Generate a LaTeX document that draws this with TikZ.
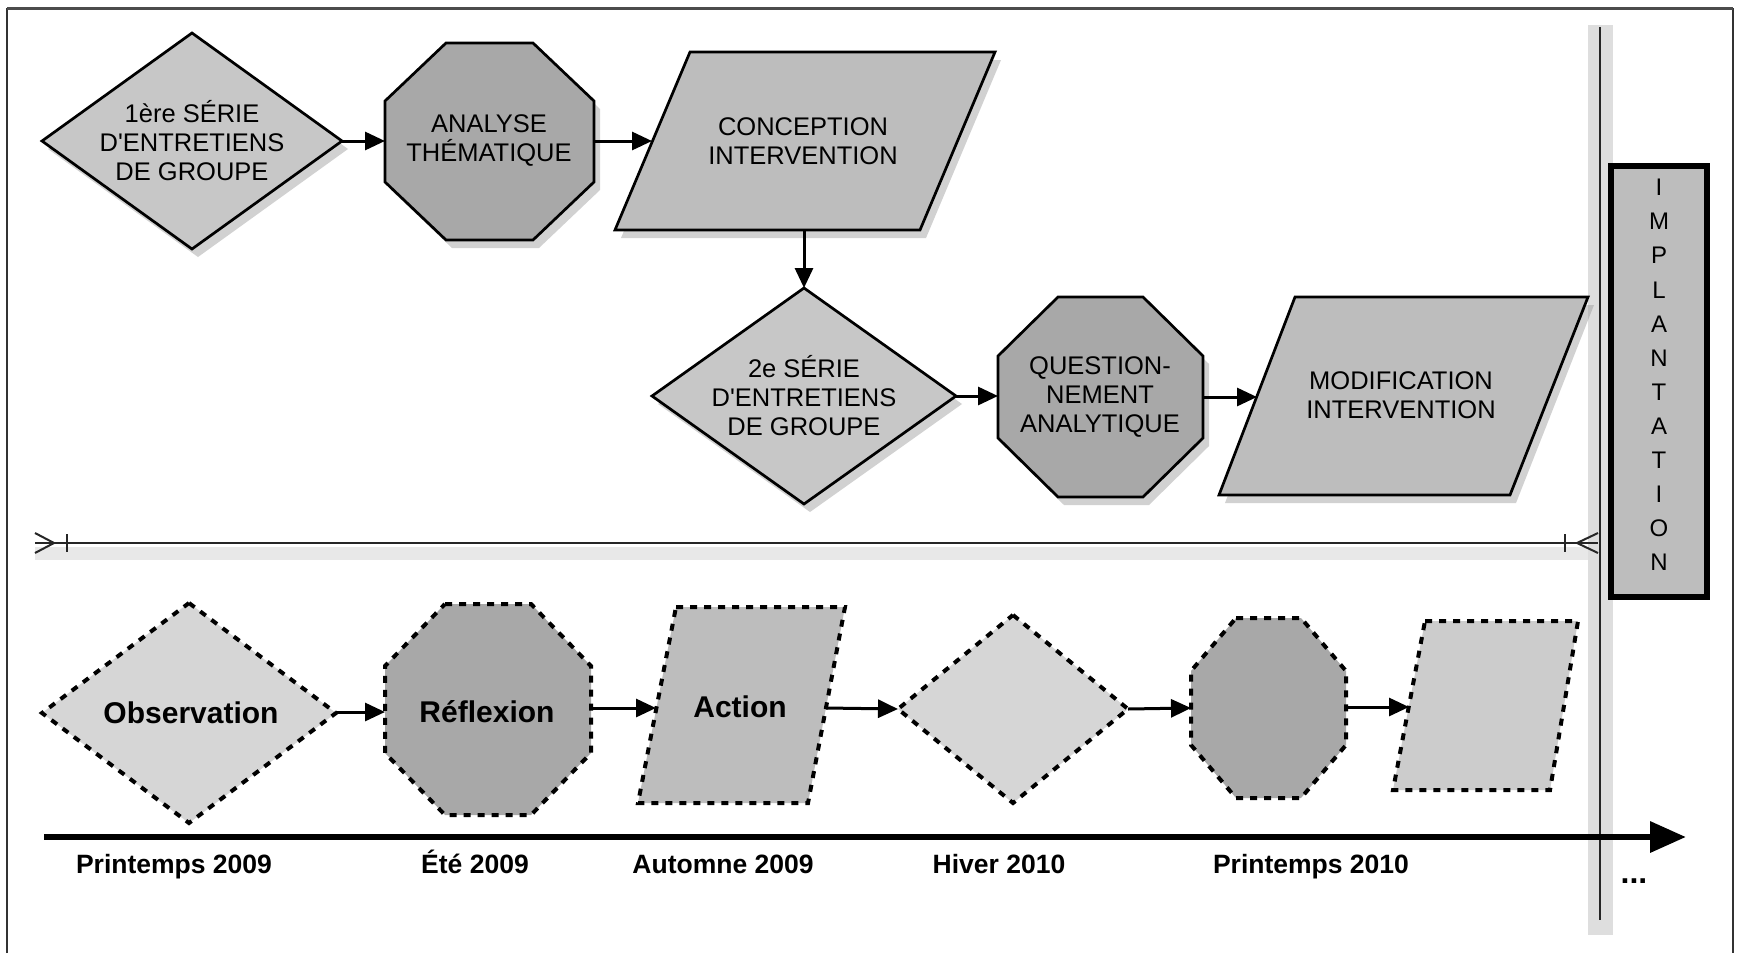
\documentclass[tikz,border=0pt]{standalone}
\usepackage{fontspec}
\setmainfont{Liberation Sans}
\usetikzlibrary{arrows.meta,shadows}
\definecolor{dfill}{gray}{0.78}
\definecolor{ofill}{gray}{0.66}
\definecolor{pfill}{gray}{0.74}
\definecolor{dlight}{gray}{0.84}
\definecolor{plight}{gray}{0.80}
\definecolor{bandgray}{gray}{0.87}
\begin{document}
\begin{tikzpicture}[x=1pt,y=-1pt,
  solidshape/.style={draw=black, line width=2.7pt, line join=miter,
    drop shadow={shadow xshift=6pt, shadow yshift=-8pt, fill=black!40, opacity=.45}},
  dashshape/.style={draw=black, line width=4pt, dash pattern=on 7pt off 7pt},
  txt/.style={align=center, font=\fontsize{25.5}{29}\selectfont, inner sep=0pt},
  btxt/.style={font=\bfseries\fontsize{30}{36}\selectfont, inner sep=0pt},
  datelbl/.style={font=\bfseries\fontsize{26.5}{30}\selectfont, anchor=base, inner sep=0pt},
  conn/.style={line width=3pt, -{Triangle[length=20pt,width=18pt]}},
  sepline/.style={line width=2pt, black!85},
]
\useasboundingbox (0,0) rectangle (1744,953);
\fill[white] (0,0) rectangle (1744,953);
% frame (open at the bottom)
\draw[line width=1.3pt, black!80] (7,953) -- (7,9) -- (1733,9) -- (1733,953);
\draw[line width=3pt, black!70] (7,8) -- (1733,8);

% gray bands
\fill[bandgray] (1588,25) rectangle (1613,935);
\fill[black!9] (35,547) rectangle (1588,560);

% ===== Row 1 =====
\filldraw[solidshape, fill=dfill] (192,33) -- (342,141) -- (192,249) -- (42,141) -- cycle;
\node[txt] (d1) at (192,141) {1ère SÉRIE\\D\textquotesingle{}ENTRETIENS\\DE GROUPE};
\filldraw[solidshape, fill=ofill] (446,43) -- (533,43) -- (594,101) -- (594,182) -- (533,240) -- (446,240) -- (385,182) -- (385,101) -- cycle;
\node[txt] (o1) at (489,141) {ANALYSE\\THÉMATIQUE};
\filldraw[solidshape, fill=pfill] (690,52) -- (995,52) -- (920,230) -- (615,230) -- cycle;
\node[txt] (p1) at (803,141) {CONCEPTION\\INTERVENTION};

% ===== Row 2 =====
\filldraw[solidshape, fill=dfill] (804,288) -- (956,396) -- (804,504) -- (652,396) -- cycle;
\node[txt] (d2) at (804,396) {2e SÉRIE\\D\textquotesingle{}ENTRETIENS\\DE GROUPE};
\filldraw[solidshape, fill=ofill] (1058,297) -- (1143,297) -- (1203,356) -- (1203,438) -- (1143,497) -- (1058,497) -- (998,438) -- (998,356) -- cycle;
\node[txt] (o2) at (1100,397) {QUESTION-\\NEMENT\\ANALYTIQUE};
\filldraw[solidshape, fill=pfill] (1295,297) -- (1588,297) -- (1510,495) -- (1219,495) -- cycle;
\node[txt] (p2) at (1401,395) {MODIFICATION\\INTERVENTION};

% connector anchors row 1-2
\coordinate (d1e) at (342,141);
\coordinate (o1w) at (385,141);
\coordinate (o1e) at (594,141);
\coordinate (p1w) at (652,141);
\coordinate (p1s) at (804,230);
\coordinate (d2n) at (804,288);
\coordinate (d2e) at (956,396);
\coordinate (o2w) at (998,396);
\coordinate (o2e) at (1203,397);
\coordinate (p2w) at (1257,397);
\draw[conn] (d1e) -- (o1w);
\draw[conn] (o1e) -- (p1w);
\draw[conn] (p1s) -- (d2n);
\draw[conn] (d2e) -- (o2w);
\draw[conn] (o2e) -- (p2w);

% ===== separator =====
\coordinate (sepL) at (35,543);
\coordinate (sepR) at (1598,543);
\coordinate (sepLf) at (54,543);
\coordinate (sepRf) at (1577,543);
\draw[sepline] (sepL) -- (sepR);
\draw[sepline] (35,533) -- (sepLf) -- (35,553);
\draw[sepline] (67,534) -- (67,552);
\draw[sepline] (1598,533) -- (sepRf) -- (1598,553);
\draw[sepline] (1565,534) -- (1565,552);

% vertical line
\coordinate (vtop) at (1600,27);
\coordinate (vbot) at (1600,920);
\draw[line width=2pt, black!85] (vtop) -- (vbot);

% IMPLANTATION box
\filldraw[draw=black, line width=6pt, fill=pfill] (1611,166) rectangle (1707,597);
\node[align=center, font=\fontsize{24}{34.1}\selectfont, inner sep=0pt, anchor=north] (impl) at (1659,179)
  {I\\M\\P\\L\\A\\N\\T\\A\\T\\I\\O\\N};

% ===== Row 3 =====
\filldraw[dashshape, fill=dlight] (189,603) -- (336,713) -- (189,823) -- (42,713) -- cycle;
\node[btxt] (obs) at (191,713) {Observation};
\filldraw[dashshape, fill=ofill] (445,604) -- (531,604) -- (591,666) -- (591,753) -- (531,815) -- (445,815) -- (385,753) -- (385,666) -- cycle;
\node[btxt] (refl) at (487,712) {Réflexion};
\filldraw[dashshape, fill=pfill] (676,607) -- (845,607) -- (808,803) -- (638,803) -- cycle;
\node[btxt] (act) at (740,707) {Action};
\filldraw[dashshape, fill=dlight] (1013,615) -- (1128,709) -- (1013,803) -- (898,709) -- cycle;
\coordinate (d4) at (1013,709);
\filldraw[dashshape, fill=ofill] (1236,618) -- (1301,618) -- (1346,671) -- (1346,745) -- (1301,798) -- (1236,798) -- (1191,745) -- (1191,671) -- cycle;
\coordinate (o3) at (1268,708);
\filldraw[dashshape, fill=plight] (1425,621) -- (1578,621) -- (1550,790) -- (1393,790) -- cycle;
\coordinate (p3) at (1486,705);

\coordinate (obse) at (336,712);
\coordinate (reflw) at (385,712);
\coordinate (refle) at (591,708);
\coordinate (actw) at (656,708);
\coordinate (acte) at (826,708);
\coordinate (d4w) at (898,709);
\coordinate (d4e) at (1128,709);
\coordinate (o3w) at (1191,708);
\coordinate (o3e) at (1346,707);
\coordinate (p3w) at (1409,707);
\draw[conn] (obse) -- (reflw);
\draw[conn] (refle) -- (actw);
\draw[conn] (acte) -- (d4w);
\draw[conn] (d4e) -- (o3w);
\draw[conn] (o3e) -- (p3w);

% ===== timeline =====
\coordinate (tl0) at (44,837);
\coordinate (tl1) at (1686,837);
\draw[line width=6.5pt, -{Triangle[length=36pt,width=30pt]}] (tl0) -- (tl1);
\node[datelbl] (t1) at (174,873) {Printemps 2009};
\node[datelbl] (t2) at (475,873) {Été 2009};
\node[datelbl] (t3) at (723,873) {Automne 2009};
\node[datelbl] (t4) at (999,873) {Hiver 2010};
\node[datelbl] (t5) at (1311,873) {Printemps 2010};
\node[font=\bfseries\fontsize{32}{36}\selectfont, anchor=base, inner sep=0pt] (dots) at (1634,883) {...};
\end{tikzpicture}
\end{document}
